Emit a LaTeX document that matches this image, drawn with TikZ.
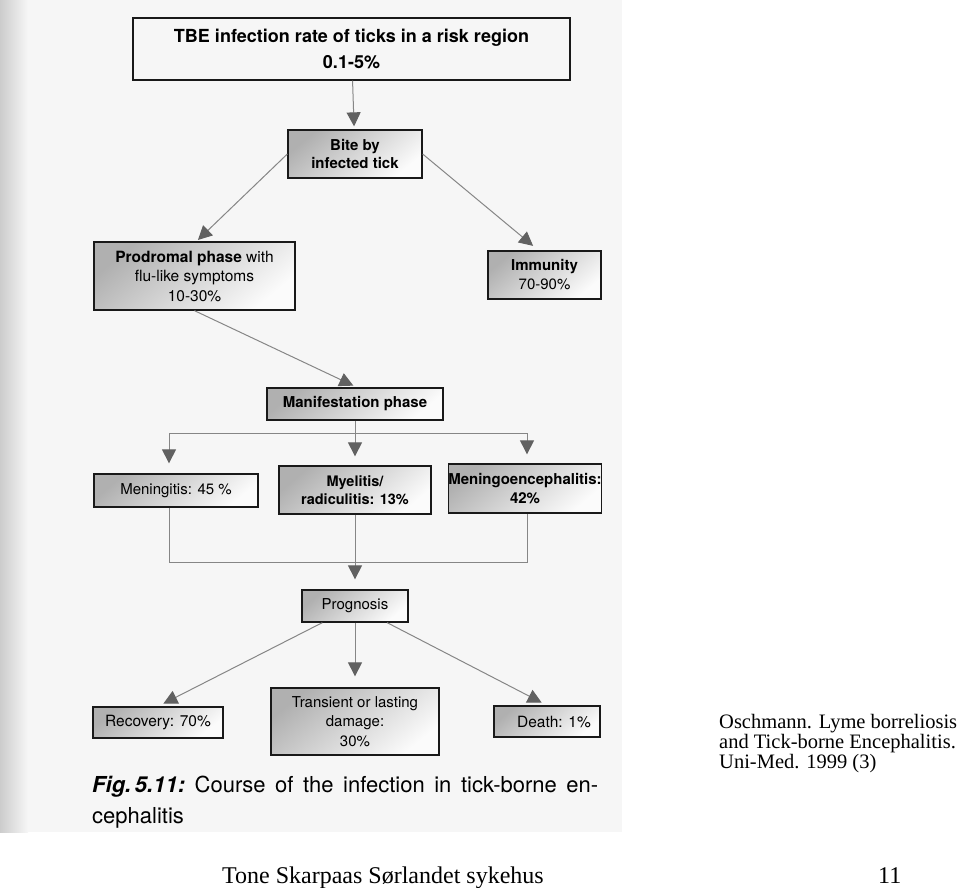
\documentclass[tikz,border=0pt]{standalone}
\usepackage{fontspec}
\setmainfont{TeX Gyre Heros}
\newfontfamily\tms{Liberation Serif}
\usetikzlibrary{arrows.meta}
\begin{document}
\begin{tikzpicture}[x=1pt,y=-1pt,
  plainbox/.style={draw=black!90, line width=1.3pt, inner sep=0pt, align=center},
  box/.style={plainbox, top color=gray!62, bottom color=gray!3, shading angle=40,
              font=\fontsize{15}{18.5}\selectfont},
  line/.style={draw=gray!95, line width=1pt},
  conn/.style={line, -{Triangle[length=14pt,width=14pt,color=black!62]}},
  serif/.style={anchor=base west, inner sep=0pt, font=\tms\fontsize{20.5}{20}\selectfont},
]
\useasboundingbox (0,0) rectangle (960,887);
% scanned page
\fill[gray!7] (0,0) rectangle (622,832);
\shade[left color=gray!40, right color=gray!7] (0,0) rectangle (28,832);

% boxes
\node[plainbox, minimum width=437pt, minimum height=62pt,
      font=\bfseries\fontsize{18}{26}\selectfont] (tbe) at (351.5,49)
      {TBE infection rate of ticks in a risk region\\0.1-5\%};
\node[box, minimum width=134pt, minimum height=48pt, font=\bfseries\fontsize{15}{18}\selectfont]
      (bite) at (355,154) {Bite by\\infected tick};
\node[box, minimum width=201pt, minimum height=68pt, font=\fontsize{15.5}{19.5}\selectfont]
      (prod) at (194.5,276) {\textbf{Prodromal phase} with\\flu-like symptoms\\10-30\%};
\node[box, minimum width=113pt, minimum height=48pt, font=\fontsize{15}{19}\selectfont]
      (imm) at (544.5,275) {\textbf{Immunity}\\70-90\%};
\node[box, minimum width=176pt, minimum height=32pt, font=\bfseries\fontsize{15}{18}\selectfont]
      (man) at (355,404) {Manifestation phase};
\node[box, minimum width=164pt, minimum height=33pt]
      (men) at (176,490.5) {Meningitis: 45 \%};
\node[box, minimum width=152pt, minimum height=48pt, font=\bfseries\fontsize{14.5}{18.5}\selectfont]
      (mye) at (355,490) {Myelitis/\\radiculitis: 13\%};
\node[box, minimum width=152pt, minimum height=49pt, font=\bfseries\fontsize{15}{18.5}\selectfont]
      (meg) at (525,488.5) {Meningoencephalitis:\\42\%};
\node[box, minimum width=106pt, minimum height=32pt]
      (prog) at (355,606) {Prognosis};
\node[box, minimum width=130pt, minimum height=31pt, font=\fontsize{15.5}{18}\selectfont]
      (rec) at (158,722.5) {Recovery: 70\%};
\node[box, minimum width=168pt, minimum height=67pt, font=\fontsize{15}{19.5}\selectfont]
      (tra) at (355,721.5) {Transient or lasting\\damage:\\30\%};
\node[box, minimum width=106pt, minimum height=31pt, font=\fontsize{15.5}{18}\selectfont]
      (dea) at (547,721.5) {\hspace*{14pt}Death: 1\%};

% connectors
\draw[conn, shorten >=3pt] (tbe) -- (bite);
\draw[conn, shorten >=2pt] (bite.west) -- ([xshift=2pt]prod.north);
\draw[conn, shorten >=7pt] (bite.east) -- ([xshift=-6pt]imm.north);
\draw[conn, shorten >=4pt] (prod.south) -- ([xshift=2pt]man.north);

\coordinate (split) at (355,433);
\coordinate (sl) at (169,433);
\coordinate (sr) at (527,433);
\draw[line] (man.south) -- (split);
\draw[line] (sl) -- (sr);
\draw[conn, shorten >=10pt] (sl) -- (sl |- men.north);
\draw[conn, shorten >=9pt] (split) -- (mye.north);
\draw[conn, shorten >=9pt] (sr) -- (sr |- meg.north);

\coordinate (bl) at (169,562);
\coordinate (br) at (527,562);
\draw[line] (bl |- men.south) -- (bl) -- (br) -- (br |- meg.south);
\draw[conn, shorten >=10pt] (mye.south) -- (prog.north);

\draw[conn, shorten >=6pt] (prog) -- (rec.north);
\draw[conn, shorten >=11pt] (prog.south) -- (tra.north);
\draw[conn, shorten >=6pt] (prog) -- (dea.north);

% caption
\node[anchor=base west, inner sep=0pt, font=\fontsize{22}{26}\selectfont] (cap1) at (92,792)
  {\makebox[506pt][s]{\mbox{\bfseries\itshape Fig.\,5.11:} Course of the infection in tick-borne en-}};
\node[anchor=base west, inner sep=0pt, font=\fontsize{22}{26}\selectfont] (cap2) at (92,823) {cephalitis};

% source
\node[serif] (src1) at (719,728) {Oschmann. Lyme borreliosis};
\node[serif] (src2) at (719,748) {and Tick-borne Encephalitis.};
\node[serif] (src3) at (719,768) {Uni-Med. 1999 (3)};

% footer
\node[anchor=base west, inner sep=0pt, font=\tms\fontsize{24}{28}\selectfont] (foot) at (222,883) {Tone Skarpaas Sørlandet sykehus};
\node[anchor=base west, inner sep=0pt, font=\tms\fontsize{24}{28}\selectfont] (pnum) at (878,883) {11};
\end{tikzpicture}
\end{document}
